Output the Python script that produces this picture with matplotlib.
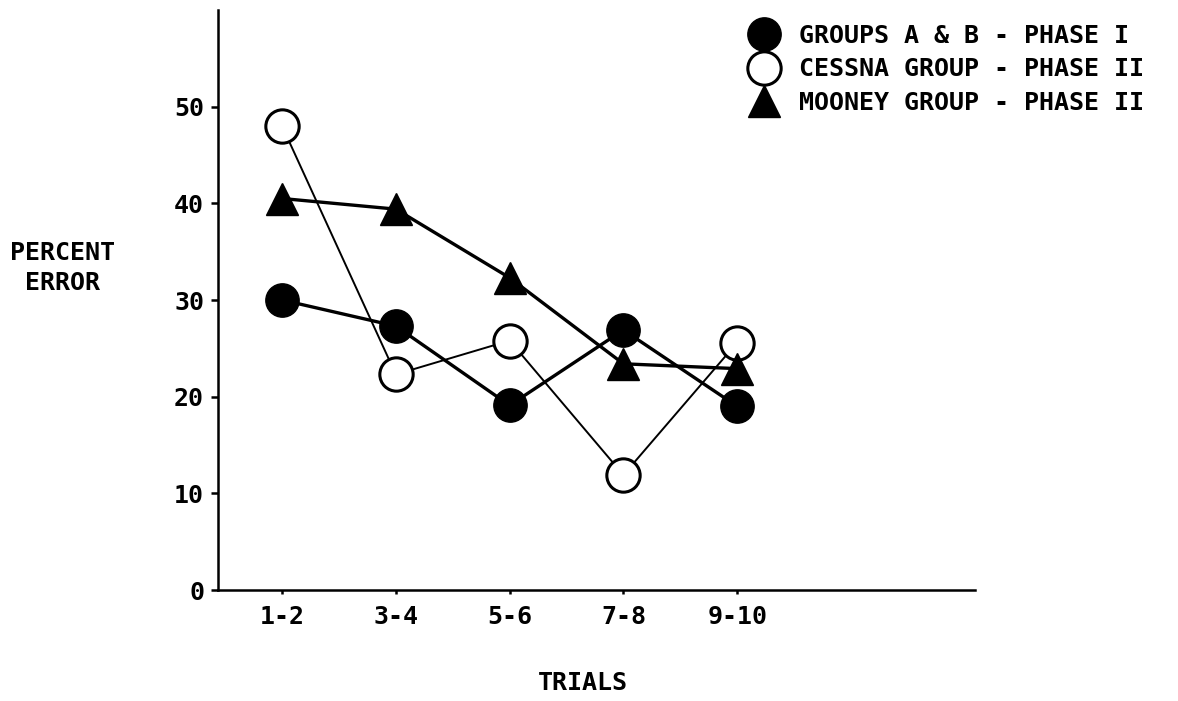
import matplotlib
matplotlib.use("Agg")
import matplotlib.pyplot as plt
from matplotlib.lines import Line2D

# values (percent error per pair of trials)
trials = ["1-2", "3-4", "5-6", "7-8", "9-10"]
groups_ab = [30.0, 27.3, 19.1, 26.9, 19.0]
cessna = [48.0, 22.3, 25.8, 11.9, 25.6]
mooney = [40.5, 39.4, 32.3, 23.4, 22.9]
labels = ["GROUPS A & B - PHASE I", "CESSNA GROUP - PHASE II", "MOONEY GROUP - PHASE II"]
y_ticks = [0, 10, 20, 30, 40, 50]

plt.rcParams["font.family"] = ["DejaVu Sans Mono"]
plt.rcParams["font.weight"] = "bold"
plt.rcParams["axes.labelweight"] = "bold"
FS = 18

fig = plt.figure(figsize=(11.78, 7.01), dpi=100)
ax = fig.add_axes([218 / 1178, 1 - 590 / 701, 757 / 1178, 580 / 701])

x = list(range(1, len(trials) + 1))
ms = 24
ax.plot(x, cessna, color="black", lw=1.4, marker="o", ms=ms,
        mfc="white", mec="black", mew=2.2, zorder=3)
ax.plot(x, groups_ab, color="black", lw=2.4, marker="o", ms=ms,
        mfc="black", mec="black", zorder=4)
ax.plot(x, mooney, color="black", lw=2.4, marker="^", ms=ms - 1,
        mfc="black", mec="black", zorder=5)

ax.set_xlim(0.437, 7.09)
ax.set_ylim(0, 60)
ax.set_xticks(x)
ax.set_xticklabels(trials, fontsize=FS)
ax.set_yticks(y_ticks)
ax.set_yticklabels([str(v) for v in y_ticks], fontsize=FS)
ax.tick_params(axis="y", direction="out", length=5, width=1.8, pad=5)
ax.tick_params(axis="x", direction="out", length=3, width=1.8, pad=8)

for side in ("top", "right"):
    ax.spines[side].set_visible(False)
for side in ("left", "bottom"):
    ax.spines[side].set_linewidth(1.8)

ax.set_ylabel("PERCENT\nERROR", rotation=0, fontsize=FS, ha="center", va="center",
              linespacing=1.35)
ax.yaxis.set_label_coords(-0.205, 0.555)
ax.set_xlabel("TRIALS", fontsize=FS, va="center")
ax.xaxis.set_label_coords(0.482, -0.160)

handles = [
    Line2D([], [], ls="none", marker="o", ms=ms, mfc="black", mec="black"),
    Line2D([], [], ls="none", marker="o", ms=ms, mfc="white", mec="black", mew=2.2),
    Line2D([], [], ls="none", marker="^", ms=ms - 1, mfc="black", mec="black"),
]
ax.legend(handles, labels, loc="upper left", bbox_to_anchor=(748 / 1178, 1 - 24 / 701),
          bbox_transform=fig.transFigure, frameon=False, fontsize=FS,
          handlelength=1.3, handletextpad=0.75, labelspacing=0.38, borderpad=0,
          borderaxespad=0)

fig.savefig("out.png", dpi=100)
